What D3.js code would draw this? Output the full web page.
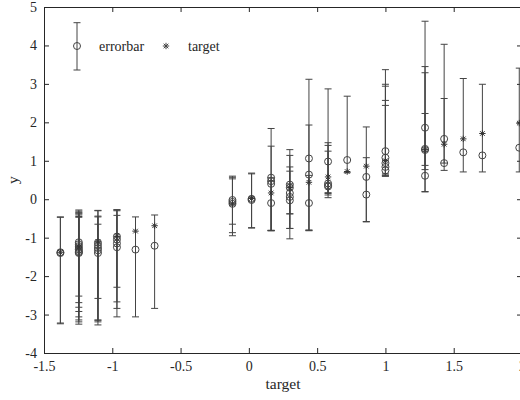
<!DOCTYPE html>
<html style="overflow:hidden;">
<head>
	<meta charset="utf-8">
	<script src="https://cdnjs.cloudflare.com/ajax/libs/d3/7.8.5/d3.min.js" charset="utf-8"></script>
	<style>
		body { margin:0; background:#fff; }
		svg, text { font-family:"Liberation Serif", "Times New Roman", serif; }
		text { fill:#262626; }
	</style>
</head>
<body>
<div id="errplot"></div>
<script>
// one entry per errorbar point: target value, predicted mean, interval low / high
var errTarget = [
  -1.38, -1.38,
  -1.245, -1.245, -1.245, -1.245, -1.245, -1.245, -1.245, -1.245,
  -1.105, -1.105, -1.105, -1.105, -1.105,
  -0.966, -0.966, -0.966, -0.966,
  -0.83, -0.69,
  -0.12, -0.12, -0.12,
  0.02, 0.02,
  0.163, 0.163, 0.163, 0.163,
  0.30, 0.30, 0.30, 0.30, 0.30,
  0.44, 0.44, 0.44,
  0.58, 0.58, 0.58, 0.58,
  0.72,
  0.86, 0.86,
  1.00, 1.00, 1.00, 1.00, 1.00,
  1.29, 1.29, 1.29, 1.29,
  1.43, 1.43,
  1.57, 1.71, 1.98
];
var errMean = [
  -1.40, -1.38,
  -1.12, -1.17, -1.22, -1.27, -1.31, -1.35, -1.38, -1.40,
  -1.13, -1.20, -1.27, -1.33, -1.40,
  -0.97, -1.05, -1.15, -1.25,
  -1.31, -1.21,
  -0.02, -0.07, -0.12,
  0.01, -0.02,
  0.56, 0.47, 0.40, -0.10,
  0.38, 0.30, 0.16, 0.06, -0.03,
  1.06, 0.64, -0.10,
  0.98, 0.41, 0.36, 0.33,
  1.02,
  0.58, 0.12,
  1.25, 1.08, 0.94, 0.84, 0.75,
  1.86, 1.31, 1.28, 0.61,
  1.57, 0.94,
  1.22, 1.14, 1.34
];
var errLow = [
  -3.24, -3.22,
  -2.52, -2.69, -2.81, -2.92, -3.06, -3.14, -3.19, -3.25,
  -3.14, -2.58, -3.19, -3.27, -3.15,
  -2.29, -2.67, -3.06, -2.84,
  -3.06, -2.84,
  -0.65, -0.87, -0.95,
  -0.75, -0.74,
  -0.82, -0.81, -0.81, -0.82,
  -0.38, -0.76, -1.03, -0.76, -0.38,
  -0.81, -0.80, -0.82,
  0.17, 0.11, 0.04, 0.15,
  0.69,
  -0.59, -0.58,
  0.60, 0.61, 0.63, 0.66, 0.60,
  0.88, 0.77, 0.19, 0.20,
  0.94, 0.75,
  0.71, 0.71, 0.71
];
var errHigh = [
  -0.46, -0.47,
  -0.28, -0.31, -0.34, -0.38, -0.41, -0.45, -0.47, -0.36,
  -0.29, -0.44, -0.65, -0.30, -0.46,
  -0.27, -0.30, -0.42, -0.28,
  -0.46, -0.41,
  0.60, 0.53, 0.57,
  0.68, 0.66,
  1.84, 1.38, 0.56, 0.47,
  1.29, 1.14, 0.84, 0.73, 0.40,
  3.12, 1.93, 0.62,
  2.87, 1.47, 1.40, 1.25,
  2.68,
  1.88, 1.08,
  3.37, 2.99, 2.94, 2.57, 2.44,
  4.63, 3.45, 3.29, 2.23,
  4.03, 2.62,
  3.14, 2.99, 3.41
];
// distinct target values, drawn as stars at (target, target)
var targets = [-1.38, -1.245, -1.105, -0.966, -0.83, -0.69, -0.12, 0.02, 0.163, 0.30,
               0.44, 0.58, 0.72, 0.86, 1.00, 1.29, 1.43, 1.57, 1.71, 1.98];

var xTicks = [-1.5, -1, -0.5, 0, 0.5, 1, 1.5, 2];
var yTicks = [-4, -3, -2, -1, 0, 1, 2, 3, 4, 5];

var width = 520, height = 400;
var axisColor = "#262626", markColor = "#444";

var svg = d3.select("#errplot")
  .append("svg")
    .attr("width", width)
    .attr("height", height)
    .attr("font-family", "'Liberation Serif', 'Times New Roman', serif");

var x = d3.scaleLinear().domain([-1.5, 2]).range([44, 522]);
var y = d3.scaleLinear().domain([-4, 5]).range([353, 7]);

// box axes, ticks pointing inward
function styleAxis(g) {
  g.attr("font-family", "'Liberation Serif', 'Times New Roman', serif").attr("font-size", 14);
  g.selectAll(".domain").attr("stroke", axisColor);
  g.selectAll(".tick line").attr("stroke", axisColor);
  g.selectAll(".tick text").attr("fill", axisColor);
}
svg.append("g")
  .attr("transform", "translate(0," + y(-4) + ")")
  .call(d3.axisBottom(x).tickValues(xTicks).tickSize(-5).tickSizeOuter(0).tickPadding(8).tickFormat(function(d) { return String(d); }))
  .call(styleAxis);
svg.append("g")
  .attr("transform", "translate(0," + y(5) + ")")
  .call(d3.axisTop(x).tickValues(xTicks).tickSize(-5).tickSizeOuter(0).tickFormat(""))
  .call(styleAxis);
svg.append("g")
  .attr("transform", "translate(" + x(-1.5) + ",0)")
  .call(d3.axisLeft(y).tickValues(yTicks).tickSize(-5).tickSizeOuter(0).tickPadding(7).tickFormat(function(d) { return String(d); }))
  .call(styleAxis);
svg.append("g")
  .attr("transform", "translate(" + x(2) + ",0)")
  .call(d3.axisRight(y).tickValues(yTicks).tickSize(-5).tickSizeOuter(0).tickFormat(""))
  .call(styleAxis);

// axis labels
svg.append("text")
  .attr("x", (x(-1.5) + x(2)) / 2)
  .attr("y", 389)
  .attr("text-anchor", "middle")
  .attr("font-size", 15.5)
  .text("target");
svg.append("text")
  .attr("transform", "translate(18," + (y(5) + y(-4)) / 2 + ") rotate(-90)")
  .attr("text-anchor", "middle")
  .attr("font-size", 15.5)
  .text("y");

var cap = 3.5, rad = 3.5, starR = 3.2;

function drawErrorbar(g, cx, yLo, yHi, yMid) {
  g.append("line").attr("x1", cx).attr("x2", cx).attr("y1", yLo).attr("y2", yHi);
  g.append("line").attr("x1", cx - cap).attr("x2", cx + cap).attr("y1", yLo).attr("y2", yLo);
  g.append("line").attr("x1", cx - cap).attr("x2", cx + cap).attr("y1", yHi).attr("y2", yHi);
  g.append("circle").attr("cx", cx).attr("cy", yMid).attr("r", rad).attr("fill", "none");
}

function drawStar(g, cx, cy) {
  var d = starR * 0.72;
  g.append("line").attr("x1", cx - starR).attr("x2", cx + starR).attr("y1", cy).attr("y2", cy);
  g.append("line").attr("x1", cx).attr("x2", cx).attr("y1", cy - starR).attr("y2", cy + starR);
  g.append("line").attr("x1", cx - d).attr("x2", cx + d).attr("y1", cy - d).attr("y2", cy + d);
  g.append("line").attr("x1", cx - d).attr("x2", cx + d).attr("y1", cy + d).attr("y2", cy - d);
}

var bars = svg.append("g")
  .attr("stroke", markColor)
  .attr("stroke-width", 1);
errTarget.forEach(function(t, i) {
  drawErrorbar(bars, x(t), y(errLow[i]), y(errHigh[i]), y(errMean[i]));
});

var stars = svg.append("g")
  .attr("stroke", "#333")
  .attr("stroke-width", 1);
targets.forEach(function(t) {
  drawStar(stars, x(t), y(t));
});

// legend (no box)
var legend = svg.append("g");
var lg = legend.append("g").attr("stroke", markColor).attr("stroke-width", 1);
drawErrorbar(lg, 77, 70, 22.7, 46);
drawStar(lg, 166, 46);
legend.append("text").attr("x", 99).attr("y", 50.5).attr("font-size", 14).text("errorbar");
legend.append("text").attr("x", 188).attr("y", 50.5).attr("font-size", 14).text("target");
</script>
</body>
</html>
